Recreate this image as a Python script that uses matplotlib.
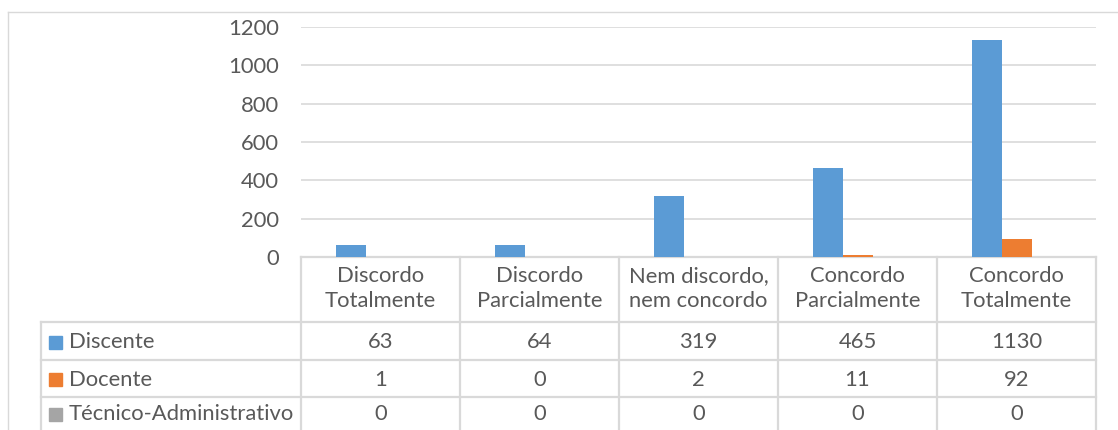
import matplotlib
matplotlib.use("Agg")
import matplotlib.pyplot as plt
from matplotlib.lines import Line2D
from matplotlib.patches import Rectangle
import matplotlib.transforms as mtransforms

categories = ["Discordo\nTotalmente", "Discordo\nParcialmente", "Nem discordo,\nnem concordo",
              "Concordo\nParcialmente", "Concordo\nTotalmente"]
series_names = ["Discente", "Docente", "Técnico-Administrativo"]
discente = [63, 64, 319, 465, 1130]
docente = [1, 0, 2, 11, 92]
tecnico = [0, 0, 0, 0, 0]
series_values = [discente, docente, tecnico]
colors = ["#5B9BD5", "#ED7D31", "#A5A5A5"]
yticks = [0, 200, 400, 600, 800, 1000, 1200]

plt.rcParams['font.family'] = ['Lato', 'DejaVu Sans']
TXT = "#595959"
GRID = "#D9D9D9"
FS = 15.8

W, H = 1118, 430
fig = plt.figure(figsize=(W / 100, H / 100), dpi=100)

# overlay for pixel-based drawing
ov = fig.add_axes([0, 0, 1, 1])
ov.set_xlim(0, W)
ov.set_ylim(H, 0)
ov.axis("off")

x0, x1 = 301, 1096
ytop, ybot = 27, 257
ax = fig.add_axes([x0 / W, (H - ybot) / H, (x1 - x0) / W, (ybot - ytop) / H])
ax.set_xlim(-0.5, len(categories) - 0.5)
ax.set_ylim(0, 1200)
bw = 30 / 159
for k, (vals, c) in enumerate(zip(series_values, colors)):
    xs = [i + (k - 1) * bw for i in range(len(categories))]
    ax.bar(xs, vals, width=bw, color=c, zorder=3)
ax.set_yticks(yticks)
ax.set_yticklabels([str(v) for v in yticks], fontsize=FS, color=TXT)
ax.tick_params(axis="y", length=0, pad=16)
ax.set_xticks([])
ax.grid(axis="y", color=GRID, linewidth=1.2, zorder=0)
for s in ax.spines.values():
    s.set_visible(False)
ax.set_facecolor("none")

# chart border
ov.add_line(Line2D([8, W + 5], [12, 12], color=GRID, lw=1.0))
ov.add_line(Line2D([8, 8], [12, H + 5], color=GRID, lw=1.0))

# table lines
tc = GRID
lw = 1.6
row_y = [257, 322, 360, 397, 430]
ov.add_line(Line2D([x0, x1], [257, 257], color=tc, lw=lw, zorder=5))
for y in row_y[1:4]:
    ov.add_line(Line2D([41, x1], [y, y], color=tc, lw=lw, zorder=5))
ov.add_line(Line2D([41, 41], [322, H + 5], color=tc, lw=lw))
colx = [x0 + 159 * i for i in range(len(categories) + 1)]
for x in colx:
    ov.add_line(Line2D([x, x], [257, H + 5], color=tc, lw=lw))

# category labels and values using data x positions
blend = mtransforms.blended_transform_factory(ax.transData, ov.transData)
for i, cat in enumerate(categories):
    ov.text(i, 288.5, cat, transform=blend, ha="center", va="center",
            fontsize=FS, color=TXT, linespacing=1.32)
row_centers = [(row_y[j] + row_y[j + 1]) / 2 + 1 for j in range(1, 4)]
for j, (name, vals, c) in enumerate(zip(series_names, series_values, colors)):
    yc = row_centers[j]
    ov.add_patch(Rectangle((49, yc - 6.5), 13, 13, color=c))
    ov.text(69, yc, name, ha="left", va="center", fontsize=FS, color=TXT)
    for i, v in enumerate(vals):
        ov.text(i, yc, str(v), transform=blend, ha="center", va="center",
                fontsize=FS, color=TXT)

fig.savefig("out.png", dpi=100)
